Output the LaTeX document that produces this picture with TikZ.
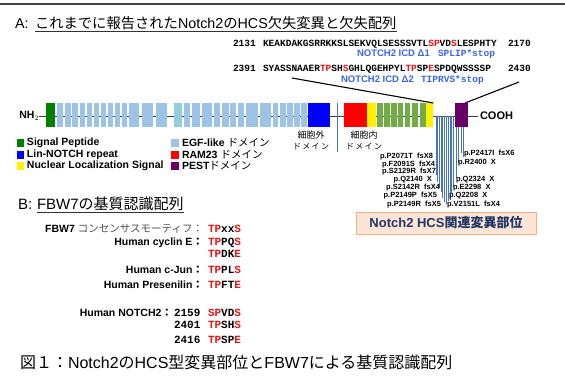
\documentclass[tikz,border=0pt]{standalone}
\usepackage{fontspec}
\setmainfont{Liberation Sans}
\newfontfamily\jp{Noto Sans CJK JP}
\newfontfamily\mono{Liberation Mono}
\newcommand\fs[1]{\fontsize{#1}{#1}\selectfont}
\definecolor{egf}{RGB}{157,195,230}
\definecolor{egft}{RGB}{146,205,220}
\definecolor{spg}{RGB}{0,128,0}
\definecolor{lnr}{RGB}{0,0,255}
\definecolor{ank}{RGB}{112,173,71}
\definecolor{pestc}{RGB}{102,0,102}
\definecolor{mutb}{RGB}{68,114,196}
\definecolor{icdb}{RGB}{60,100,235}
\definecolor{peach}{RGB}{252,228,214}
\definecolor{orng}{RGB}{244,177,131}
\definecolor{navy}{RGB}{31,56,100}
\definecolor{hl}{RGB}{235,20,20}
\definecolor{grytxt}{RGB}{80,80,80}
\newcommand\Rd[1]{\textcolor{hl}{#1}}
\tikzset{
  txt/.style={inner sep=0pt, outer sep=0pt},
  dombox/.style={inner sep=0pt, outer sep=0pt, minimum height=24pt, anchor=north west, draw=none},
  seqa/.style={txt, font=\mono\bfseries\fs{9.5}},
  seqb/.style={txt, font=\mono\bfseries\fs{11}},
  icd/.style={txt, text=icdb},
  mut/.style={txt, font=\bfseries\fs{7.5}},
  leg/.style={txt, anchor=west, font=\bfseries\fs{10.5}},
  lbl/.style={txt, anchor=base east, font=\bfseries\fs{10.5}},
  mline/.style={mutb, line width=0.7pt},
  conn/.style={black, line width=1.1pt}
}
\begin{document}
\begin{tikzpicture}[x=1pt,y=-1pt]
\useasboundingbox (0,0) rectangle (565,381);
% top rule
\draw[line width=2pt, black!75] (0,4) -- (565,4);
% title A
\node[txt, anchor=base west, font=\fs{14.3}] (tA0) at (15,28) {A:};
\node[txt, anchor=base west, font=\fs{14.3}] (tA) at (35,28) {{\jp これまでに報告された}Notch2{\jp の}HCS{\jp 欠失変異と欠失配列}};
\draw[black!80, line width=0.9pt] ([yshift=-3.5pt]tA.base west) -- ([yshift=-3.5pt]tA.base east);
% sequences
\node[seqa, anchor=base west] (n2131) at (233,46.5) {2131};
\node[seqa, anchor=base west] (s1) at (263,46.5) {KEAKDAKGSRRKKSLSEKVQLSESSSVTL\Rd{SP}VD\Rd{S}LESPHTY};
\node[seqa, anchor=base west] (n2170) at (508,46.5) {2170};
\node[icd, anchor=base west, font=\bfseries\fs{9.5}] (d1) at (357,56.5) {NOTCH2 ICD Δ1};
\node[icd, anchor=base west, font=\mono\bfseries\fs{9.5}] (d1s) at (438,56.5) {SPLIP*stop};
\node[seqa, anchor=base west] (n2391) at (233,71.5) {2391};
\node[seqa, anchor=base west] (s2) at (263,71.5) {SYASSNAAER\Rd{TP}SH\Rd{S}GHLQGEHPYL\Rd{TP}SP\Rd{E}SPDQWSSSSP};
\node[seqa, anchor=base west] (n2430) at (508,71.5) {2430};
\node[icd, anchor=base west, font=\bfseries\fs{9.5}] (d2) at (341,82.5) {NOTCH2 ICD Δ2};
\node[icd, anchor=base west, font=\mono\bfseries\fs{9.5}] (d2s) at (421,82.5) {TIPRVS*stop};
% backbone
\node[txt, anchor=east, font=\bfseries\fs{10.5}] (nh2) at (39,116) {NH$_2$};
\coordinate (cend) at (478,116);
\draw[black!75, line width=0.8pt] (nh2.east) -- (cend);
% mutation lines
\foreach \x/\y in {436/175,437.7/182,439.3/187,441/192,442.7/198,444.3/202,446/204,448/201,450/200,451.7/193,453.3/187,456/178,458.7/163,461.3/153,463/157}
  \draw[mline] (\x,116) -- (\x,\y);
% transmembrane
\draw[mline, line width=0.9pt] (337.3,103) -- (337.3,152);
% EGF repeats
\foreach \a/\b in {57/63,64.5/70.5,72/78,79.5/85,86.5/92,93.5/99,100.5/106,107.5/113,114.5/120,121.5/127,129/139,142/153,156/167,184/190,192/200,202/212,214/220,222/229,230/236,237.5/244,246/258,260/271,272.5/278,280/285.5,287/292.5,294/300,301/306.5}
  \fill[egf] (\a,103) rectangle (\b,127);
\fill[egft] (174,103) rectangle (182,127);
% ANK repeats
\foreach \a/\b in {376.7/382.7,384/390,391.3/396.7,397.7/403.3,404.7/410,411.7/418.3,420/425.5}
  \fill[ank] (\a,103) rectangle (\b,127);
% domains
\node[dombox, fill=spg, minimum width=9pt] (sp) at (46,103) {};
\node[dombox, fill=lnr, minimum width=22.5pt] (lnr) at (307.7,103) {};
\node[dombox, fill=red, minimum width=23pt] (ram) at (344,103) {};
\node[dombox, fill=yellow, minimum width=8.5pt] (nls1) at (367.3,103) {};
\node[dombox, fill=yellow, minimum width=7.5pt] (nls2) at (425.8,103) {};
\node[dombox, fill=pestc, minimum width=13pt] (pest) at (455,103) {};
\node[txt, anchor=west, font=\bfseries\fs{11}] (cooh) at (480,116) {COOH};
% connectors
\coordinate (c1) at (292,78);
\coordinate (c2) at (519,82);
\draw[conn] (nls2.north east) -- (c1);
\draw[conn] ([xshift=-3pt]pest.north east) -- (c2);
% domain region labels
\node[txt, font=\jp\fs{9}] (ex1) at (311,135) {細胞外};
\node[txt, font=\jp\fs{8}] (ex2) at (311,147) {ド\,メ\,イ\,ン};
\node[txt, font=\jp\fs{9}] (in1) at (364,135) {細胞内};
\node[txt, font=\jp\fs{8}] (in2) at (364,147) {ド\,メ\,イ\,ン};
% legend
\fill[spg] (17,139) rectangle (24,147);
\node[leg] (l1) at (27,143) {Signal Peptide};
\fill[lnr] (17,150.5) rectangle (24,158.5);
\node[leg] (l2) at (27,154.5) {Lin-NOTCH repeat};
\fill[yellow] (17,162) rectangle (24,170);
\node[leg] (l3) at (27,166) {Nuclear Localization Signal};
\fill[egf] (171,139) rectangle (179,147);
\node[leg] (l4) at (182,143) {EGF-like {\jp\mdseries ドメイン}};
\fill[red] (171,150.5) rectangle (179,158.5);
\node[leg] (l5) at (182,154.5) {RAM23 {\jp\mdseries ドメイン}};
\fill[pestc] (171,162) rectangle (179,170);
\node[leg] (l6) at (182,166) {PEST{\jp\mdseries ドメイン}};
% mutation labels left
\node[mut, anchor=base east] (m1) at (433,158.5) {p.P2071T\ \ fsX8};
\node[mut, anchor=base east] (m2) at (435,166) {p.F2091S\ \ fsX4};
\node[mut, anchor=base east] (m3) at (436,173.5) {p.S2129R\ \ fsX7};
\node[mut, anchor=base east] (m4) at (432,181) {p.Q2140\ \ X};
\node[mut, anchor=base east] (m5) at (440,189.5) {p.S2142R\ \ fsX4};
\node[mut, anchor=base east] (m6) at (437,197.5) {p.P2149P\ \ fsX5};
\node[mut, anchor=base east] (m7) at (441,206.5) {p.P2149R\ \ fsX5};
% mutation labels right
\node[mut, anchor=base west] (r1) at (464,155.5) {p.P2417I\ \ fsX6};
\node[mut, anchor=base west] (r2) at (458,164.5) {p.R2400\ \ X};
\node[mut, anchor=base west] (r3) at (456,181) {p.Q2324\ \ X};
\node[mut, anchor=base west] (r4) at (453,189.5) {p.E2298\ \ X};
\node[mut, anchor=base west] (r5) at (449,197.5) {p.Q2208\ \ X};
\node[mut, anchor=base west] (r6) at (447,206.5) {p.V2151L\ \ fsX4};
% HCS box
\node[txt, draw=orng, fill=peach, line width=1pt, minimum width=180pt, minimum height=22pt, font=\bfseries\fs{13}, text=navy] (hcs) at (446,223) {Notch2 HCS{\jp\bfseries 関連変異部位}};
% title B
\node[txt, anchor=base west, font=\fs{15}] (tB0) at (18,209) {B:};
\node[txt, anchor=base west, font=\fs{15}] (tB) at (37,209) {FBW7{\jp の基質認識配列}};
\draw[black!80, line width=0.9pt] ([yshift=-3pt]tB.base west) -- ([yshift=-3pt]tB.base east);
% B table
\node[lbl] (b1) at (203,232.5) {FBW7 {\jp\mdseries\color{grytxt}コンセンサスモーティフ：}};
\node[seqb, anchor=base west] (q1) at (208,232.5) {\Rd{TP}xx\Rd{S}};
\node[lbl] (b2) at (203,245.5) {Human cyclin E{\jp ：}};
\node[seqb, anchor=base west] (q2) at (208,245.5) {\Rd{TP}PQ\Rd{S}};
\node[seqb, anchor=base west] (q3) at (208,257.5) {\Rd{TP}DK\Rd{E}};
\node[lbl] (b3) at (203,273.5) {Human c-Jun{\jp ：}};
\node[seqb, anchor=base west] (q4) at (208,273.5) {\Rd{TP}PL\Rd{S}};
\node[lbl] (b4) at (203,288.5) {Human Presenilin{\jp ：}};
\node[seqb, anchor=base west] (q5) at (208,288.5) {\Rd{TP}FT\Rd{E}};
\node[lbl] (b5) at (172,316.5) {Human NOTCH2{\jp ：}};
\node[seqb, anchor=base west] (k1) at (174,316.5) {2159};
\node[seqb, anchor=base west] (q6) at (208,316.5) {\Rd{SP}VD\Rd{S}};
\node[seqb, anchor=base west] (k2) at (174,328.5) {2401};
\node[seqb, anchor=base west] (q7) at (208,328.5) {\Rd{TP}SH\Rd{S}};
\node[seqb, anchor=base west] (k3) at (174,343.5) {2416};
\node[seqb, anchor=base west] (q8) at (208,343.5) {\Rd{TP}SP\Rd{E}};
% caption
\node[txt, anchor=base west, font=\fs{16}] (cap) at (20,368) {{\jp 図１：}Notch2{\jp の}HCS{\jp 型変異部位と}FBW7{\jp による基質認識配列}};
\end{tikzpicture}
\end{document}
